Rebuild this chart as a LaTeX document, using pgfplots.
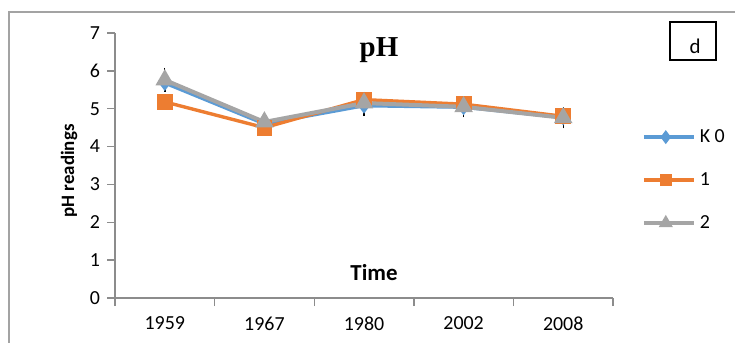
\documentclass[border=0pt]{standalone}
\usepackage{pgfplots}
\pgfplotsset{compat=1.18}
\usepackage{fontspec}
\setmainfont{Carlito}
\newfontfamily\serifb{Liberation Serif}
\definecolor{cblue}{HTML}{5B9BD5}
\definecolor{corange}{HTML}{ED7D31}
\definecolor{cgray}{HTML}{A5A5A5}
\definecolor{axgray}{HTML}{8C8C8C}
\pgfplotsset{eb/.style={
    error bars/y dir=both, error bars/y explicit,
    error bars/error bar style={black, line width=0.7bp},
    error bars/error mark options={black, mark size=2.2bp, line width=0.7bp}}}
\begin{document}
\begin{tikzpicture}[x=1bp,y=1bp]
\path[use as bounding box] (0,0) rectangle (367.5,171.5);
\draw[axgray!80, line width=0.7bp] (4.5,-2) -- (4.5,165.5) -- (370,165.5);
\begin{axis}[
  at={(57.5bp,22.5bp)}, anchor=south west,
  scale only axis, width=249bp, height=132.5bp,
  xmin=0.5, xmax=5.5, ymin=0, ymax=7,
  xtick={0.5,1.5,...,5.5}, x tick label as interval,
  xticklabels={1959,1967,1980,2002,2008},
  ytick={0,...,7},
  axis lines*=left,
  axis line style={draw=axgray, line width=0.8bp},
  tick align=outside, major tick length=4bp,
  tick style={axgray, line width=0.7bp},
  ticklabel style={font=\fontsize{10}{12}\selectfont},
  xticklabel style={yshift=-2bp},
  /pgf/number format/assume math mode=true,
  clip=false,
  legend cell align=left,
  legend style={at={(1.045,0.445)}, anchor=west, draw=none, fill=none,
    font=\fontsize{10}{12}\selectfont, row sep=8.5bp,
    nodes={text height=7bp, text depth=2bp}},
  legend image code/.code={\draw[mark repeat=2,mark phase=2,#1,mark size=2.1bp] plot coordinates {(0bp,0bp) (11bp,0bp) (25bp,0bp)};},
]
\addplot[cblue, line width=1.7bp, mark=diamond*, mark size=2.6bp, mark options={solid}, eb]
  coordinates {(1,5.68) +- (0,0.12) (2,4.60) +- (0,0.12) (3,5.08) +- (0,0.16) (4,5.04) +- (0,0.12) (5,4.77) +- (0,0.12)};
\addlegendentry{K 0}
\addplot[corange, line width=1.7bp, mark=square*, mark size=3.1bp, mark options={solid}]
  coordinates {(1,5.18) (2,4.50) (3,5.24) (4,5.12) (5,4.80)};
\addlegendentry{1}
\addplot[cgray, line width=2bp, mark=triangle*, mark size=3.4bp, mark options={solid}, eb]
  coordinates {(1,5.76) +- (0,0.20) (2,4.65) +- (0,0.16) (3,5.15) +- (0,0.18) (4,5.05) +- (0,0.16) (5,4.76) +- (0,0.16)};
\addlegendentry{2}
\end{axis}
\node[font=\serifb\bfseries\fontsize{14.5}{16}\selectfont] at (189.5,146.5) {pH};
\node[font=\bfseries\fontsize{11.5}{13}\selectfont] at (187,35) {Time};
\node[rotate=90, font=\bfseries\fontsize{9.5}{11}\selectfont] at (34.5,86) {pH readings};
\draw[line width=1bp] (335,141.5) rectangle (358,160.5);
\node[font=\fontsize{10.5}{12}\selectfont] at (347.5,148.5) {d};
\end{tikzpicture}
\end{document}
